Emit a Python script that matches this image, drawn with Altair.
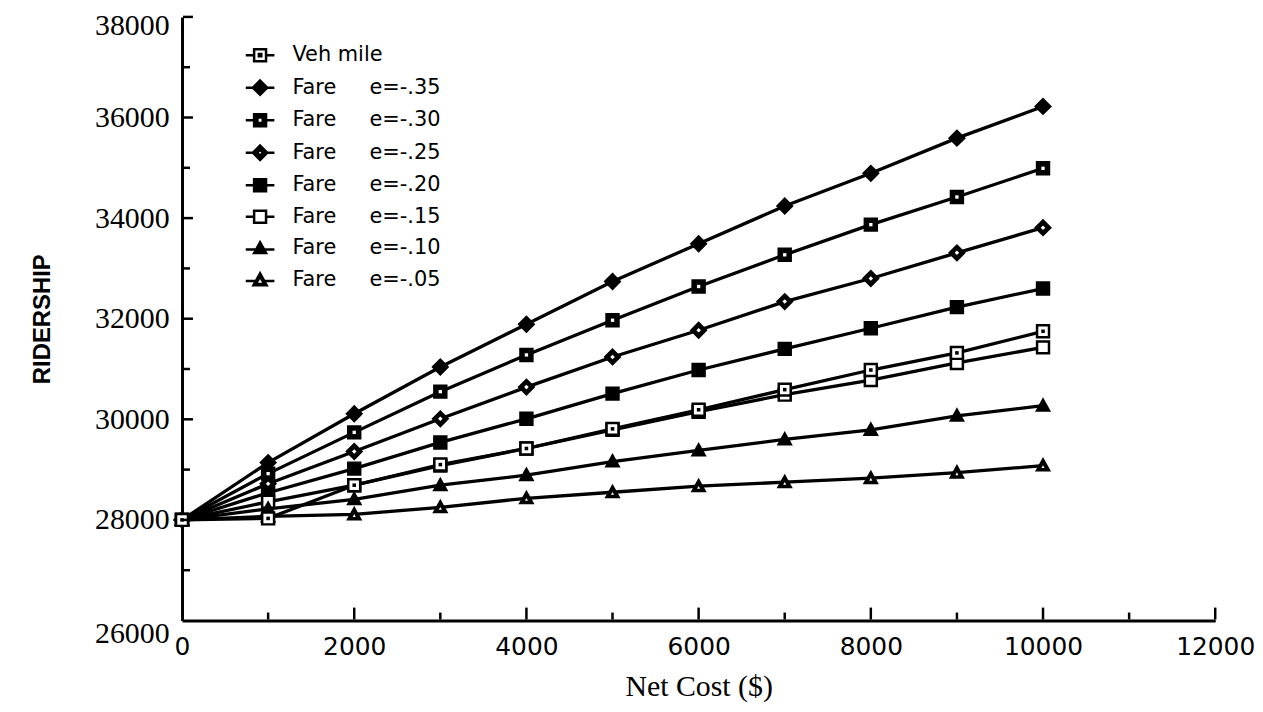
import altair as alt
import pandas as pd

NB = "\u00a0"

# ---- data ----
X_VALUES = [0, 1000, 2000, 3000, 4000, 5000, 6000, 7000, 8000, 9000, 10000]

SERIES = [
    "Veh mile",
    "Fare" + NB * 5 + "e=-.35",
    "Fare" + NB * 5 + "e=-.30",
    "Fare" + NB * 5 + "e=-.25",
    "Fare" + NB * 5 + "e=-.20",
    "Fare" + NB * 5 + "e=-.15",
    "Fare" + NB * 5 + "e=-.10",
    "Fare" + NB * 5 + "e=-.05",
]

veh_mile = [28000, 28030, 28690, 29100, 29420, 29810, 30190, 30590, 30980, 31320, 31750]
fare_35 = [28000, 29140, 30110, 31040, 31890, 32740, 33490, 34240, 34890, 35590, 36220]
fare_30 = [28000, 28920, 29740, 30550, 31280, 31970, 32640, 33270, 33870, 34420, 34990]
fare_25 = [28000, 28720, 29360, 30010, 30640, 31240, 31770, 32340, 32800, 33310, 33810]
fare_20 = [28000, 28540, 29020, 29540, 30010, 30510, 30980, 31400, 31810, 32230, 32600]
fare_15 = [28000, 28360, 28690, 29080, 29420, 29790, 30150, 30490, 30780, 31120, 31430]
fare_10 = [28000, 28220, 28410, 28690, 28890, 29160, 29380, 29600, 29790, 30070, 30270]
fare_05 = [28000, 28070, 28110, 28250, 28430, 28550, 28670, 28750, 28830, 28940, 29080]

X_AXIS_VALUES = [0, 2000, 4000, 6000, 8000, 10000, 12000]
Y_AXIS_VALUES = [26000, 28000, 30000, 32000, 34000, 36000, 38000]
X_MAJOR_TICKS = [2000, 4000, 6000, 8000, 10000, 12000]
X_MINOR_TICKS = [1000, 3000, 5000, 7000, 9000, 11000]
Y_MAJOR_TICKS = [28000, 30000, 32000, 34000, 36000, 38000]
Y_MINOR_TICKS = [27000, 29000, 31000, 33000, 35000, 37000]

# ---- marker styling ----
SQ = "M-1,-1H1V1H-1Z"
DI = "M-1.2,0L0,-1.2L1.2,0L0,1.2Z"
TR = "M-1,0.8L0,-1L1,0.8Z"
POINT_SHAPES = [SQ, DI, SQ, DI, SQ, SQ, TR, TR]
FILLS = ["white", "black", "black", "black", "black", "white", "black", "black"]
STROKES = ["black"] * 8

DOT_SERIES = [SERIES[0], SERIES[2], SERIES[3], SERIES[7]]
DOT_SHAPES = [
    "M-0.3,-0.3H0.3V0.3H-0.3Z",
    "M-0.28,-0.28H0.28V0.28H-0.28Z",
    "M-0.38,0L0,-0.38L0.38,0L0,0.38Z",
    "M-0.26,0.42L0.26,0.42L0,-0.05Z",
]
DOT_FILLS = ["black", "white", "white", "white"]

LSQ = "M-2.4,0H-1M1,0H2.4"
LDI = "M-2.4,0H-1.2M1.2,0H2.4"
LTR = "M-2.4,0.2H-0.7M0.7,0.2H2.4"
LEGEND_SHAPES = [
    LSQ + "M-1,-1H1V1H-1ZM-0.2,-0.2H0.2V0.2H-0.2Z",
    LDI + "M-1.2,0L0,-1.2L1.2,0L0,1.2Z",
    LSQ + "M-1,-1H1V1H-1ZM-0.45,-0.45V0.45H0.45V-0.45Z",
    LDI + "M-1.2,0L0,-1.2L1.2,0L0,1.2ZM-0.5,0L0,0.5L0.5,0L0,-0.5Z",
    LSQ + "M-1,-1H1V1H-1Z",
    LSQ + "M-1,-1H1V1H-1Z",
    LTR + "M-1,0.8L0,-1L1,0.8Z",
    LTR + "M-1.1,0.9L0,-1.1L1.1,0.9ZM-0.7,0.7L0.7,0.7L0,-0.55Z",
]

# ---- table (Veh mile drawn last so it sits on top at the origin) ----
values_by_series = {
    SERIES[1]: fare_35, SERIES[2]: fare_30, SERIES[3]: fare_25, SERIES[4]: fare_20,
    SERIES[5]: fare_15, SERIES[6]: fare_10, SERIES[7]: fare_05, SERIES[0]: veh_mile,
}
rows = []
for name, vals in values_by_series.items():
    for xv, yv in zip(X_VALUES, vals):
        rows.append({"series": name, "x": xv, "y": yv})
df = pd.DataFrame(rows)

xscale = alt.Scale(domain=[0, 12000], nice=False, zero=False)
yscale = alt.Scale(domain=[26000, 38000], nice=False, zero=False)

xaxis = alt.Axis(
    values=X_AXIS_VALUES, ticks=False, tickSize=0, grid=False, format="d",
    domainColor="black", domainWidth=3, labelFlush=False, labelOverlap=False,
    labelFont="DejaVu Sans", labelFontSize=25, labelColor="black", labelPadding=14,
    title="Net Cost ($)", titleFont="Liberation Serif", titleFontSize=30,
    titleFontWeight="normal", titleColor="black", titlePadding=12,
)
yaxis = alt.Axis(
    values=Y_AXIS_VALUES, ticks=False, tickSize=0, grid=False, format="d",
    domainColor="black", domainWidth=3, labelFlush=False, labelOverlap=False,
    labelFont="Liberation Serif", labelFontSize=30, labelColor="black", labelPadding=13,
    labelOffset={
        "condition": [
            {"test": "datum.value == 26000", "value": 13},
            {"test": "datum.value == 38000", "value": 9},
        ],
        "value": 0,
    },
    title="RIDERSHIP", titleFont="Liberation Sans", titleFontSize=24,
    titleFontWeight="bold", titleColor="black", titlePadding=40,
)

X = alt.X("x:Q", scale=xscale, axis=xaxis)
Y = alt.Y("y:Q", scale=yscale, axis=yaxis)

lines = alt.Chart(df).mark_line(color="black", strokeWidth=3.3).encode(
    x=X, y=Y, detail="series:N"
)

points = alt.Chart(df).mark_point(
    filled=True, stroke="black", strokeWidth=2.5, size=144, opacity=1
).encode(
    x=X, y=Y,
    shape=alt.Shape("series:N", scale=alt.Scale(domain=SERIES, range=POINT_SHAPES), legend=None),
    fill=alt.Fill("series:N", scale=alt.Scale(domain=SERIES, range=FILLS), legend=None),
)

centers = alt.Chart(df).transform_filter(
    alt.FieldOneOfPredicate(field="series", oneOf=DOT_SERIES)
).mark_point(filled=True, strokeWidth=0, size=144, opacity=1).encode(
    x=X, y=Y,
    shape=alt.Shape("series:N", scale=alt.Scale(domain=DOT_SERIES, range=DOT_SHAPES), legend=None),
    fill=alt.Fill("series:N", scale=alt.Scale(domain=DOT_SERIES, range=DOT_FILLS), legend=None),
)

legend = alt.Legend(
    title=None, orient="none", legendX=68, legendY=28, padding=0,
    symbolSize=144, symbolStrokeWidth=2.5, symbolStrokeColor="black", symbolOpacity=1,
    labelFont="DejaVu Sans", labelFontSize=21, labelColor="black", labelOffset=22,
    labelLimit=0, rowPadding=8.7,
)
legend_layer = alt.Chart(df).transform_filter("datum.x < 0").mark_point(
    filled=True, strokeWidth=2.5, size=144, opacity=1
).encode(
    x=X, y=Y,
    shape=alt.Shape("series:N", scale=alt.Scale(domain=SERIES, range=LEGEND_SHAPES), legend=legend),
    fill=alt.Fill("series:N", scale=alt.Scale(domain=SERIES, range=FILLS), legend=legend),
    stroke=alt.Stroke("series:N", scale=alt.Scale(domain=SERIES, range=STROKES), legend=legend),
)

def ticks(vals, horizontal, length):
    d = pd.DataFrame({("y" if horizontal else "x"): vals})
    if horizontal:
        return alt.Chart(d).mark_tick(
            orient="horizontal", size=length, thickness=2.5, color="black",
            xOffset=length / 2 + 1, opacity=1
        ).encode(x=alt.datum(0, scale=xscale), y=Y)
    return alt.Chart(d).mark_tick(
        orient="vertical", size=length, thickness=2.5, color="black",
        yOffset=-(length / 2 + 1), opacity=1
    ).encode(x=X, y=alt.datum(26000))

chart = alt.layer(
    lines, points, centers, legend_layer,
    ticks(Y_MAJOR_TICKS, True, 10), ticks(Y_MINOR_TICKS, True, 7),
    ticks(X_MAJOR_TICKS, False, 12), ticks(X_MINOR_TICKS, False, 7),
).resolve_scale(shape="independent", fill="independent", stroke="independent").properties(
    width=1039, height=607,
    autosize=alt.AutoSizeParams(type="none"),
    padding={"left": 175, "top": 7, "right": 40, "bottom": 82},
    background="white",
).configure_view(stroke=None)

chart.save("out.html", embed_options={"renderer": "svg", "actions": False})
